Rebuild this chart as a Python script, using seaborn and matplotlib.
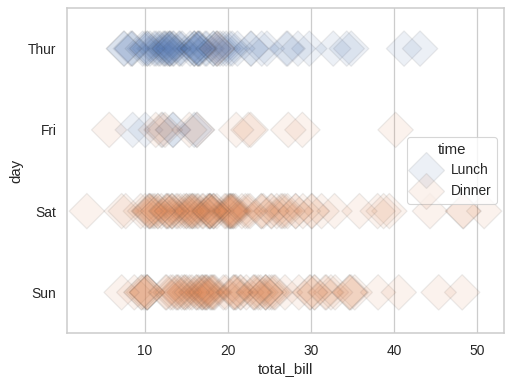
import matplotlib
matplotlib.use("Agg")
import matplotlib.pyplot as plt
import seaborn as sns
import pandas as pd

day_order = ["Thur", "Fri", "Sat", "Sun"]
time_order = ["Lunch", "Dinner"]

thur_lunch = [27.20, 22.76, 17.29, 19.44, 16.66, 10.07, 32.68, 15.98, 34.83, 13.03,
              18.28, 24.71, 21.16, 10.65, 12.43, 24.08, 11.69, 13.42, 14.26, 15.95,
              12.48, 29.80, 8.52, 14.52, 11.38, 22.82, 19.08, 20.27, 11.17, 12.26,
              18.26, 8.51, 10.33, 14.15, 16.00, 13.16, 17.47, 34.30, 41.19, 27.05,
              16.43, 8.35, 18.64, 11.87, 9.78, 7.51, 19.81, 28.44, 15.48, 16.58,
              7.56, 10.34, 43.11, 13.00, 13.51, 18.71, 12.74, 13.00, 16.40, 20.53,
              16.47]
thur_dinner = [18.78]
fri_lunch = [12.16, 13.42, 8.58, 15.98, 13.42, 16.27, 10.09]
fri_dinner = [28.97, 22.49, 5.75, 16.32, 22.75, 40.17, 27.28, 12.03, 21.01, 12.46,
              11.35, 15.38]
sat_dinner = [20.65, 17.92, 20.29, 15.77, 39.42, 19.82, 17.81, 13.37, 12.69, 21.70,
              19.65, 9.55, 18.35, 15.06, 20.69, 17.78, 24.06, 16.31, 16.93, 18.69,
              31.27, 16.04, 38.01, 26.41, 11.24, 48.27, 20.29, 13.81, 11.02, 18.29,
              17.59, 20.08, 16.45, 3.07, 20.23, 15.01, 12.02, 17.07, 26.86, 25.28,
              14.73, 10.51, 17.92, 44.30, 22.42, 20.92, 15.36, 20.49, 25.21, 18.24,
              14.31, 14.00, 7.25, 10.59, 10.63, 50.81, 15.81, 26.59, 38.73, 24.27,
              12.76, 30.06, 25.89, 48.33, 13.27, 28.17, 12.90, 28.15, 11.59, 7.74,
              30.14, 20.45, 13.28, 22.12, 24.01, 15.69, 11.61, 10.77, 15.53, 10.07,
              12.60, 32.83, 35.83, 29.03, 27.18, 22.67, 17.82]
sun_dinner = [16.99, 10.34, 21.01, 23.68, 24.59, 25.29, 8.77, 26.88, 15.04, 14.78,
              10.27, 35.26, 15.42, 18.43, 14.83, 21.58, 10.33, 16.29, 16.97, 17.46,
              13.94, 9.68, 30.40, 18.29, 22.23, 32.40, 28.55, 18.04, 12.54, 10.29,
              34.81, 9.94, 25.56, 19.49, 38.07, 23.95, 25.71, 17.31, 29.93, 14.07,
              13.13, 17.26, 24.55, 19.77, 29.85, 48.17, 25.00, 13.39, 16.49, 21.50,
              12.66, 16.21, 13.81, 17.51, 24.52, 20.76, 31.71, 7.25, 31.85, 16.82,
              32.90, 17.89, 14.48, 9.60, 34.63, 34.65, 23.33, 45.35, 23.17, 40.55,
              20.69, 20.90, 30.46, 18.15, 23.10, 15.69]

groups = [("Thur", "Lunch", thur_lunch), ("Thur", "Dinner", thur_dinner),
          ("Fri", "Lunch", fri_lunch), ("Fri", "Dinner", fri_dinner),
          ("Sat", "Dinner", sat_dinner), ("Sun", "Dinner", sun_dinner)]
rows = []
for d, t, vals in groups:
    for v in vals:
        rows.append({"total_bill": v, "day": d, "time": t})
df = pd.DataFrame(rows)

scale = 1.125
sns.set_theme(style="whitegrid", font_scale=scale)
plt.rcParams["font.family"] = ["Liberation Sans", "DejaVu Sans"]
plt.rcParams["axes.linewidth"] = 1.25 * scale
plt.rcParams["grid.linewidth"] = 1.0 * scale

fig = plt.figure(figsize=(6.4, 4.8125), dpi=80)
ax = fig.add_axes([67 / 512, 1 - 333 / 385, (504 - 67) / 512, (333 - 8) / 385])
sns.stripplot(data=df, x="total_bill", y="day", hue="time", order=day_order,
              hue_order=time_order, jitter=False, s=20 * scale, marker="D",
              linewidth=1 * scale, alpha=.1, ax=ax)
fig.savefig("out.png", dpi=80)
